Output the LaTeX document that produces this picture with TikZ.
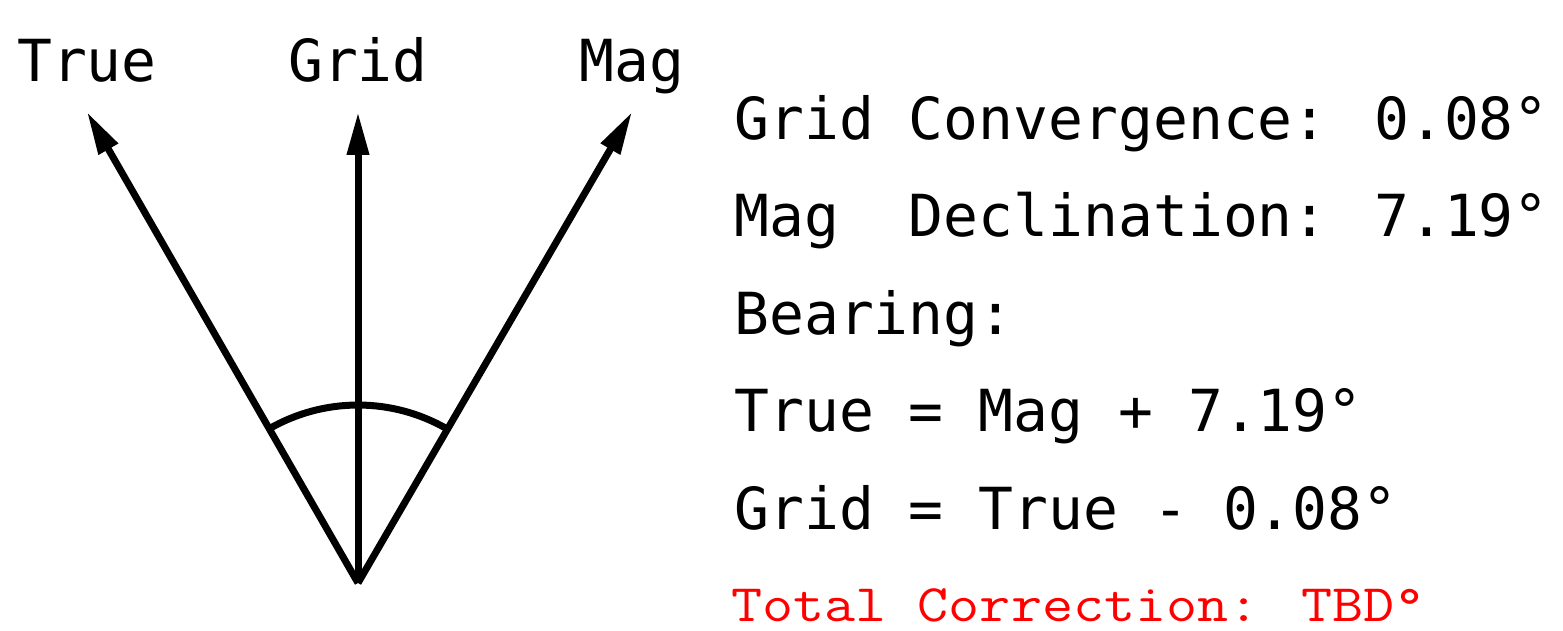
\documentclass[tikz,border=0pt]{standalone}
\usepackage{fontspec}
\usetikzlibrary{arrows.meta}
\newfontfamily\gridmono{DejaVu Sans Mono}
\newfontfamily\notemono[FakeStretch=1.145]{Latin Modern Mono}
\tikzset{
 needle/.style={line width=0.14cm,-{Triangle[length=0.86cm,width=0.42cm]}},
 note/.style={anchor=base west,inner sep=0pt},
}
\begin{document}
\begin{tikzpicture}[x=0.02cm,y=0.02cm,font=\gridmono\fontsize{33}{40}\selectfont]
\useasboundingbox (0,0) rectangle (1563,631);
\coordinate (o) at (358,48);
\foreach \name/\tx in {True/87,Grid/358,Mag/632}{
 \coordinate (\name) at (\tx,519);
 \draw[needle] (o)--(\name);
 \node[anchor=base,inner sep=0pt] (l\name) at (\tx,549) {\name};
}
\draw[line width=0.14cm] ([shift={(120:3.56cm)}]o) arc[start angle=120,end angle=60,radius=3.56cm];
\node[note] (conv) at (734,491) {Grid Convergence: 0.08°};
\node[note] (decl) at (734,394) {Mag~~Declination: 7.19°};
\node[note] (bear) at (734,296) {Bearing:};
\node[note] (tmag) at (734,199) {True = Mag + 7.19°};
\node[note] (gtrue) at (734,101) {Grid = True - 0.08°};
\node[note,red,font=\notemono\fontsize{30}{36}\selectfont] (total) at (731,9) {Total Correction: TBD°};
\end{tikzpicture}
\end{document}
